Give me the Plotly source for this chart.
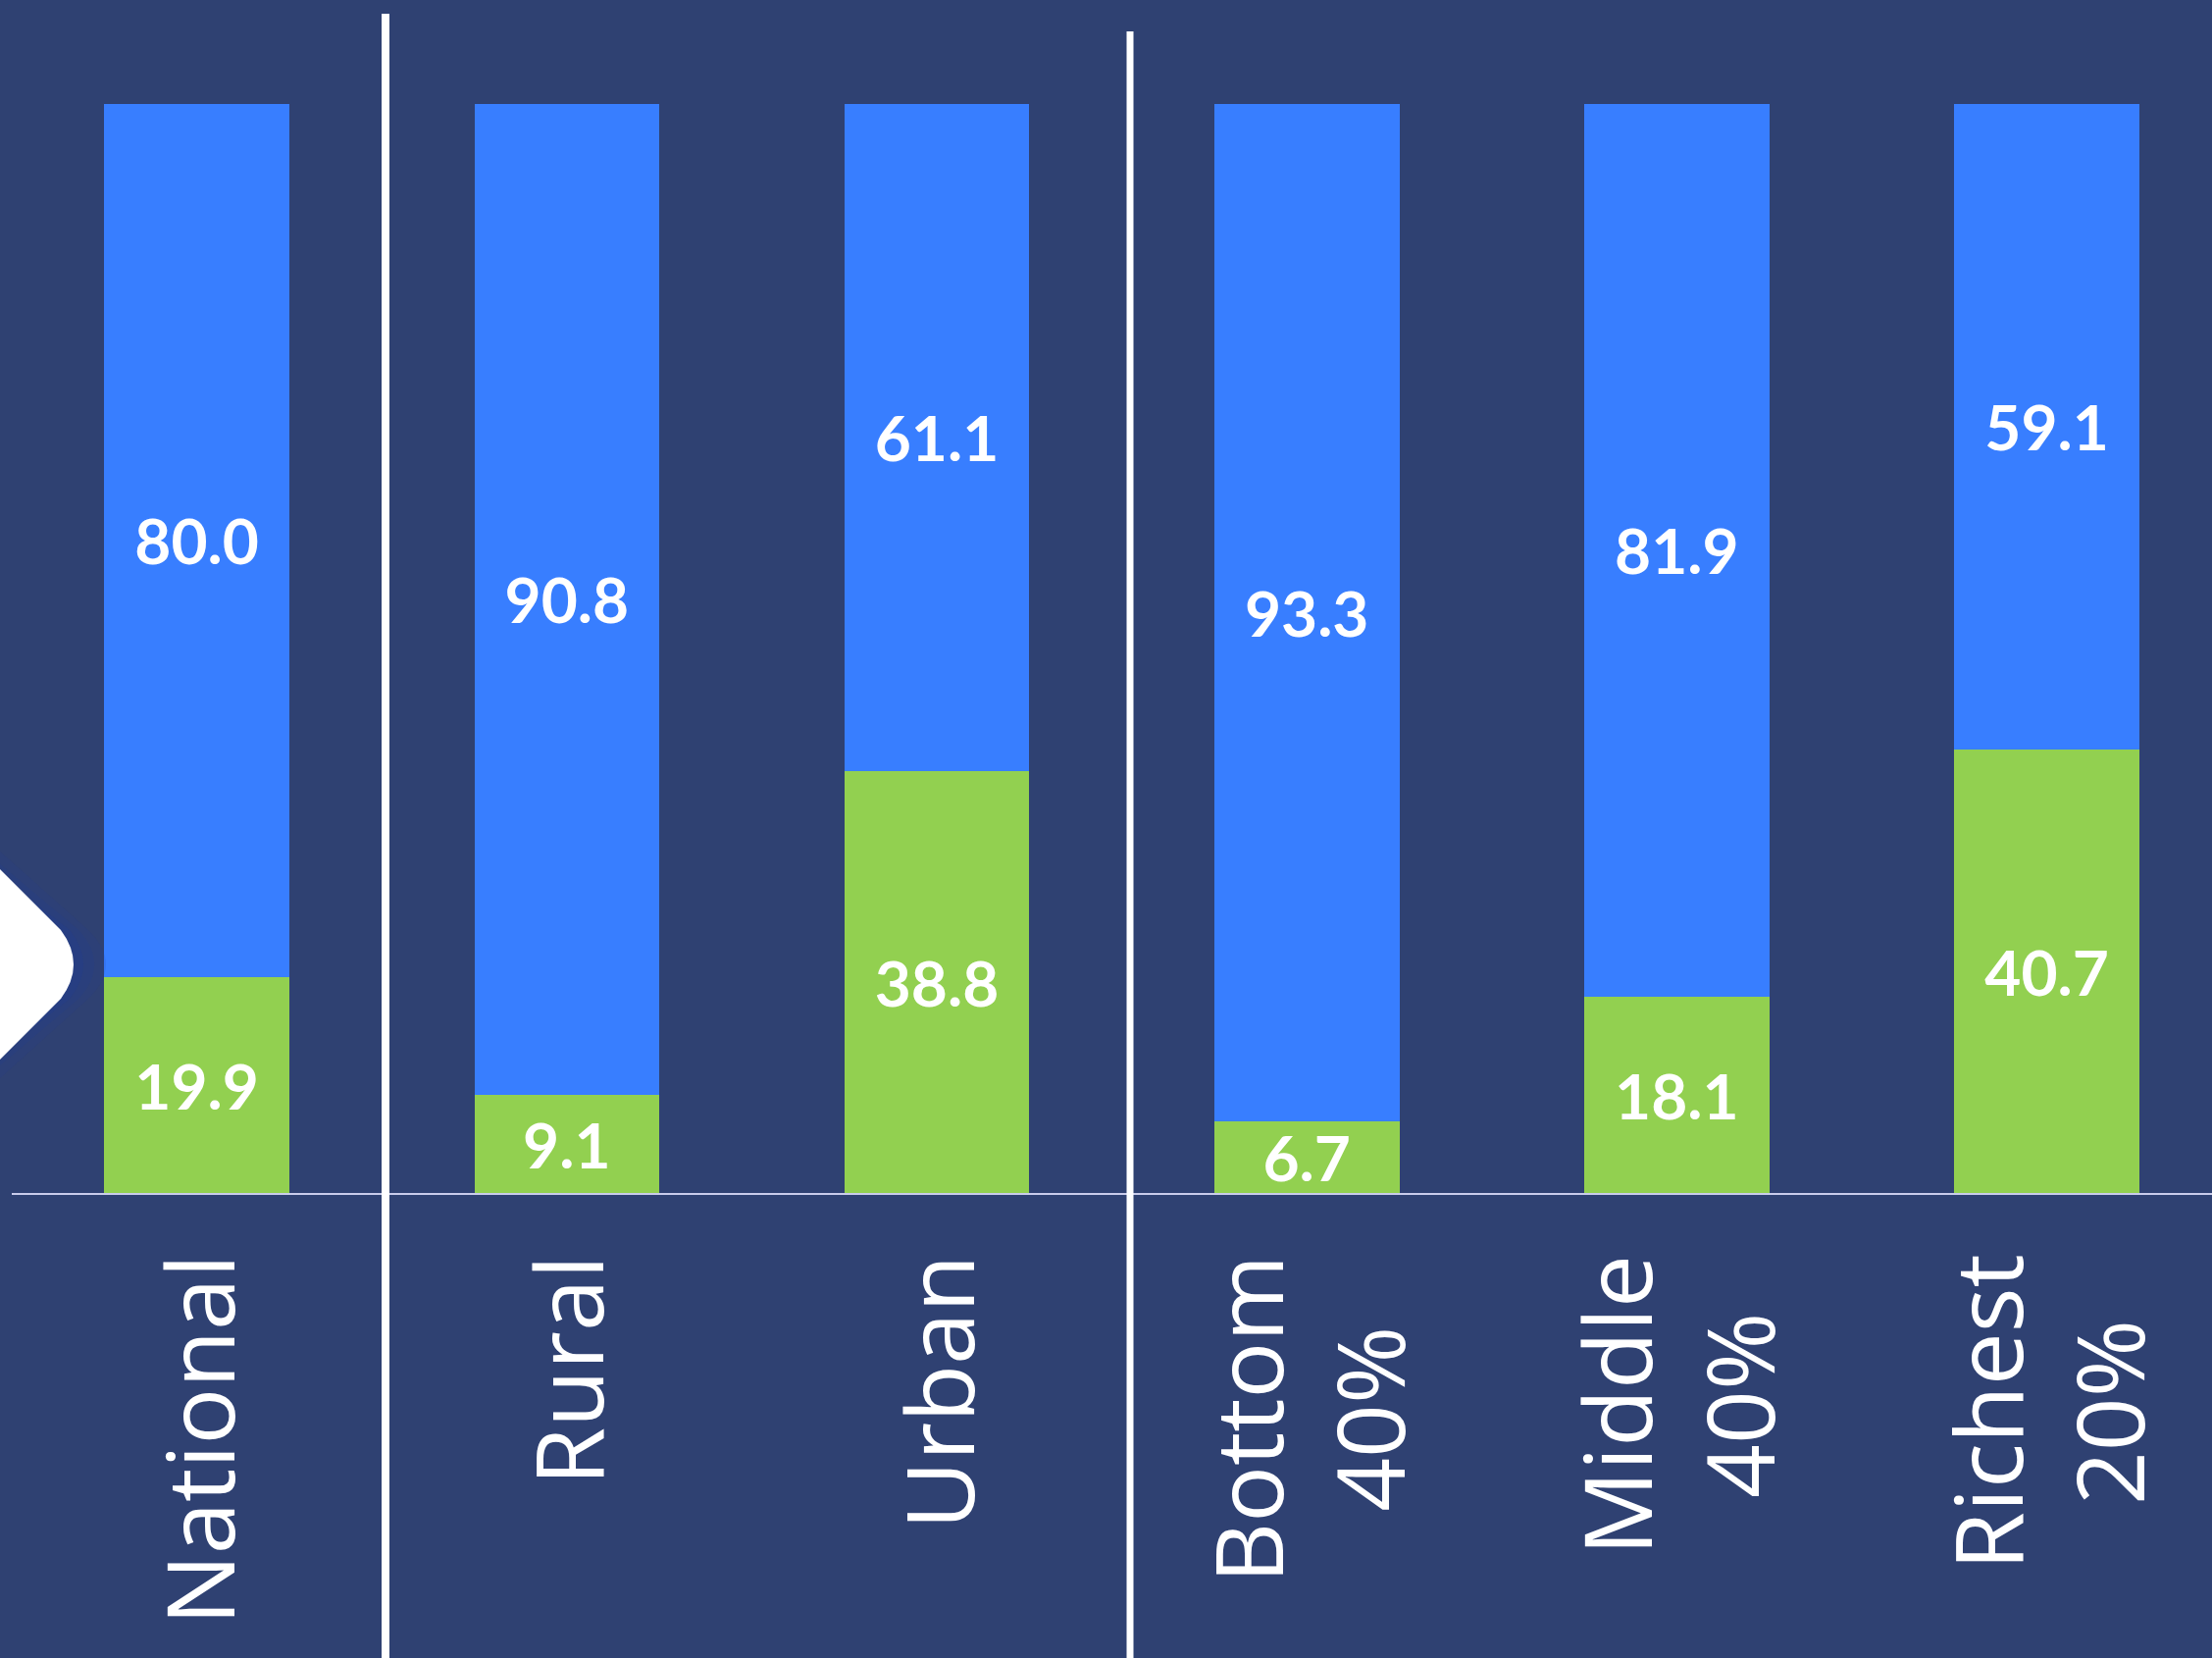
import plotly.graph_objects as go

categories = ["National", "Rural", "Urban", "Bottom 40%", "Middle 40%", "Richest 20%"]
tick_labels = ["National", "Rural", "Urban", "Bottom<br>40%", "Middle<br>40%", "Richest<br>20%"]
green_values = [19.9, 9.1, 38.8, 6.7, 18.1, 40.7]
blue_values = [80.0, 90.8, 61.1, 93.3, 81.9, 59.1]

W, H = 2255, 1690
L, R, T, B = 12, 0, 106, 473
PW, PH = W - L - R, H - T - B
STEP = 377.2

BG = "#2F4172"
BLUE = "#387EFF"
GREEN = "#92D050"


def px(x):
    return (x - L) / PW


def py(y):
    return (H - B - y) / PH


fig = go.Figure()
fig.add_trace(go.Bar(
    x=categories, y=green_values, marker=dict(color=GREEN, line=dict(width=0)),
    text=[f"{v:.1f}" for v in green_values], textposition="inside",
    insidetextanchor="middle", textangle=0, constraintext="none",
    textfont=dict(family="Lato", size=64, color="white", weight=700),
    hoverinfo="skip", showlegend=False,
))
fig.add_trace(go.Bar(
    x=categories, y=blue_values, marker=dict(color=BLUE, line=dict(width=0)),
    text=[f"{v:.1f}" for v in blue_values], textposition="inside",
    insidetextanchor="middle", textangle=0, constraintext="none",
    textfont=dict(family="Lato", size=64, color="white", weight=700),
    hoverinfo="skip", showlegend=False,
))

annotations = []
for cat, lab in zip(categories, tick_labels):
    annotations.append(dict(
        x=cat, y=0, xref="x", yref="y", text=lab, showarrow=False,
        textangle=-90, xanchor="center", yanchor="top", yshift=-60,
        align="center", font=dict(family="Open Sans", size=96, color="white"),
    ))


def path_from(points_px, tip):
    (x0, y0), (x1, y1) = points_px[0], points_px[1]
    cx, cy = tip
    (x2, y2), (x3, y3) = points_px[2], points_px[3]
    return (f"M {px(x0)} {py(y0)} L {px(x1)} {py(y1)} "
            f"Q {px(cx)} {py(cy)} {px(x2)} {py(y2)} L {px(x3)} {py(y3)} Z")


shapes = []
# soft glow behind the arrow
for grow, op in [(40, 0.12), (26, 0.16), (13, 0.2)]:
    shapes.append(dict(
        type="path", xref="paper", yref="paper", layer="above",
        path=path_from([(-20, 890 - grow), (62 + grow * 0.7, 948), (62 + grow * 0.7, 1018), (-20, 1077 + grow)],
                       (86 + grow, 983)),
        fillcolor="#1E3C9A", opacity=op, line=dict(width=0),
    ))
shapes.append(dict(
    type="path", xref="paper", yref="paper", layer="above",
    path=path_from([(-20, 866), (62, 948), (62, 1018), (-20, 1100)], (88, 983)),
    fillcolor="white", line=dict(width=0),
))
# baseline
shapes.append(dict(type="line", xref="paper", yref="paper", x0=0, x1=1, y0=0, y1=0,
                   line=dict(color="#C9CCEB", width=2), layer="above"))
# separators
shapes.append(dict(type="line", xref="paper", yref="paper", x0=px(393), x1=px(393),
                   y0=py(14), y1=py(H + 5), line=dict(color="white", width=8), layer="above"))
shapes.append(dict(type="line", xref="paper", yref="paper", x0=px(1152), x1=px(1152),
                   y0=py(32), y1=py(H + 5), line=dict(color="white", width=7), layer="above"))

fig.update_layout(
    width=W, height=H, margin=dict(l=L, r=R, t=T, b=B, pad=0),
    paper_bgcolor=BG, plot_bgcolor=BG,
    barmode="stack", barnorm="percent", bargap=0.5,
    xaxis=dict(type="category", range=[-0.5, -0.5 + PW / STEP], showticklabels=False,
               showgrid=False, zeroline=False, showline=False, ticks=""),
    yaxis=dict(range=[0, 100], visible=False, showgrid=False, zeroline=False),
    annotations=annotations, shapes=shapes,
)

fig.write_html("out.html")
